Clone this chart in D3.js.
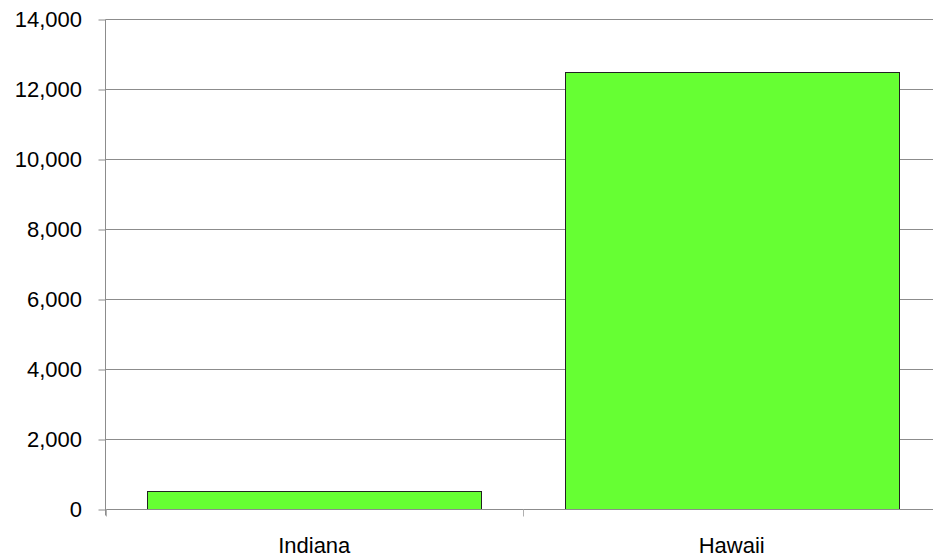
<!DOCTYPE html>
<html>
<head>
<meta charset="utf-8">
<script src="https://cdn.jsdelivr.net/npm/d3@7"></script>
<style>
html,body{margin:0;padding:0;background:#fff;}
svg{display:block;}
text{font-family:"Liberation Sans",Arial,sans-serif;fill:#000;}
</style>
</head>
<body>
<svg id="chart" width="933" height="558"></svg>
<script>
const categories = ["Indiana", "Hawaii"];
const values = [520, 12500];
const yTicks = [0, 2000, 4000, 6000, 8000, 10000, 12000, 14000];

(function () {
const svg = d3.select("#chart");
const pLeft = 105.5, pRight = 940.5, pTop = 19.5, pBottom = 509.5;

const x = d3.scaleBand().domain(categories).range([pLeft, pRight]).paddingInner(0.2).paddingOuter(0.1);
const y = d3.scaleLinear().domain([0, 14000]).range([pBottom, pTop]);
const fmt = d3.format(",");

// gridlines
svg.append("g").selectAll("line").data(yTicks.filter(d => d > 0)).join("line")
  .attr("x1", pLeft).attr("x2", pRight)
  .attr("y1", d => y(d)).attr("y2", d => y(d))
  .attr("stroke", "#8c8c8c").attr("stroke-width", 1);

// bars
svg.append("g").selectAll("rect").data(categories).join("rect")
  .attr("x", d => Math.round(x(d)) + 0.5)
  .attr("y", (d, i) => Math.round(y(values[i])) + 0.5)
  .attr("width", x.bandwidth())
  .attr("height", (d, i) => pBottom - Math.round(y(values[i])) - 0.5)
  .attr("fill", "#66ff33")
  .attr("stroke", "#222").attr("stroke-width", 1);

// y axis
const yAxis = d3.axisLeft(y).tickValues(yTicks).tickFormat(fmt).tickSize(7).tickPadding(16.5);
const gy = svg.append("g").attr("transform", `translate(${pLeft},0)`).call(yAxis);
gy.select(".domain").attr("stroke", "#8c8c8c").attr("d", `M0,${pTop}V${pBottom + 6}`);
gy.selectAll(".tick line").attr("stroke", "#8c8c8c");
gy.selectAll(".tick text").attr("font-size", 22).attr("font-family", "Liberation Sans, Arial, sans-serif").attr("fill", "#000");

// x axis
const bounds = [pLeft, (x(categories[0]) + x.bandwidth() + x(categories[1])) / 2, pRight];
svg.append("line").attr("x1", pLeft).attr("x2", pRight).attr("y1", pBottom).attr("y2", pBottom)
  .attr("stroke", "#8c8c8c");
svg.append("g").selectAll("line").data(bounds).join("line")
  .attr("x1", d => Math.round(d) + 0.5).attr("x2", d => Math.round(d) + 0.5)
  .attr("y1", pBottom).attr("y2", pBottom + 7).attr("stroke", "#b0b0b0");
svg.append("g").selectAll("text").data(categories).join("text")
  .attr("x", d => x(d) + x.bandwidth() / 2).attr("y", 553)
  .attr("text-anchor", "middle").attr("font-size", 22)
  .text(d => d);
})();
</script>
</body>
</html>
